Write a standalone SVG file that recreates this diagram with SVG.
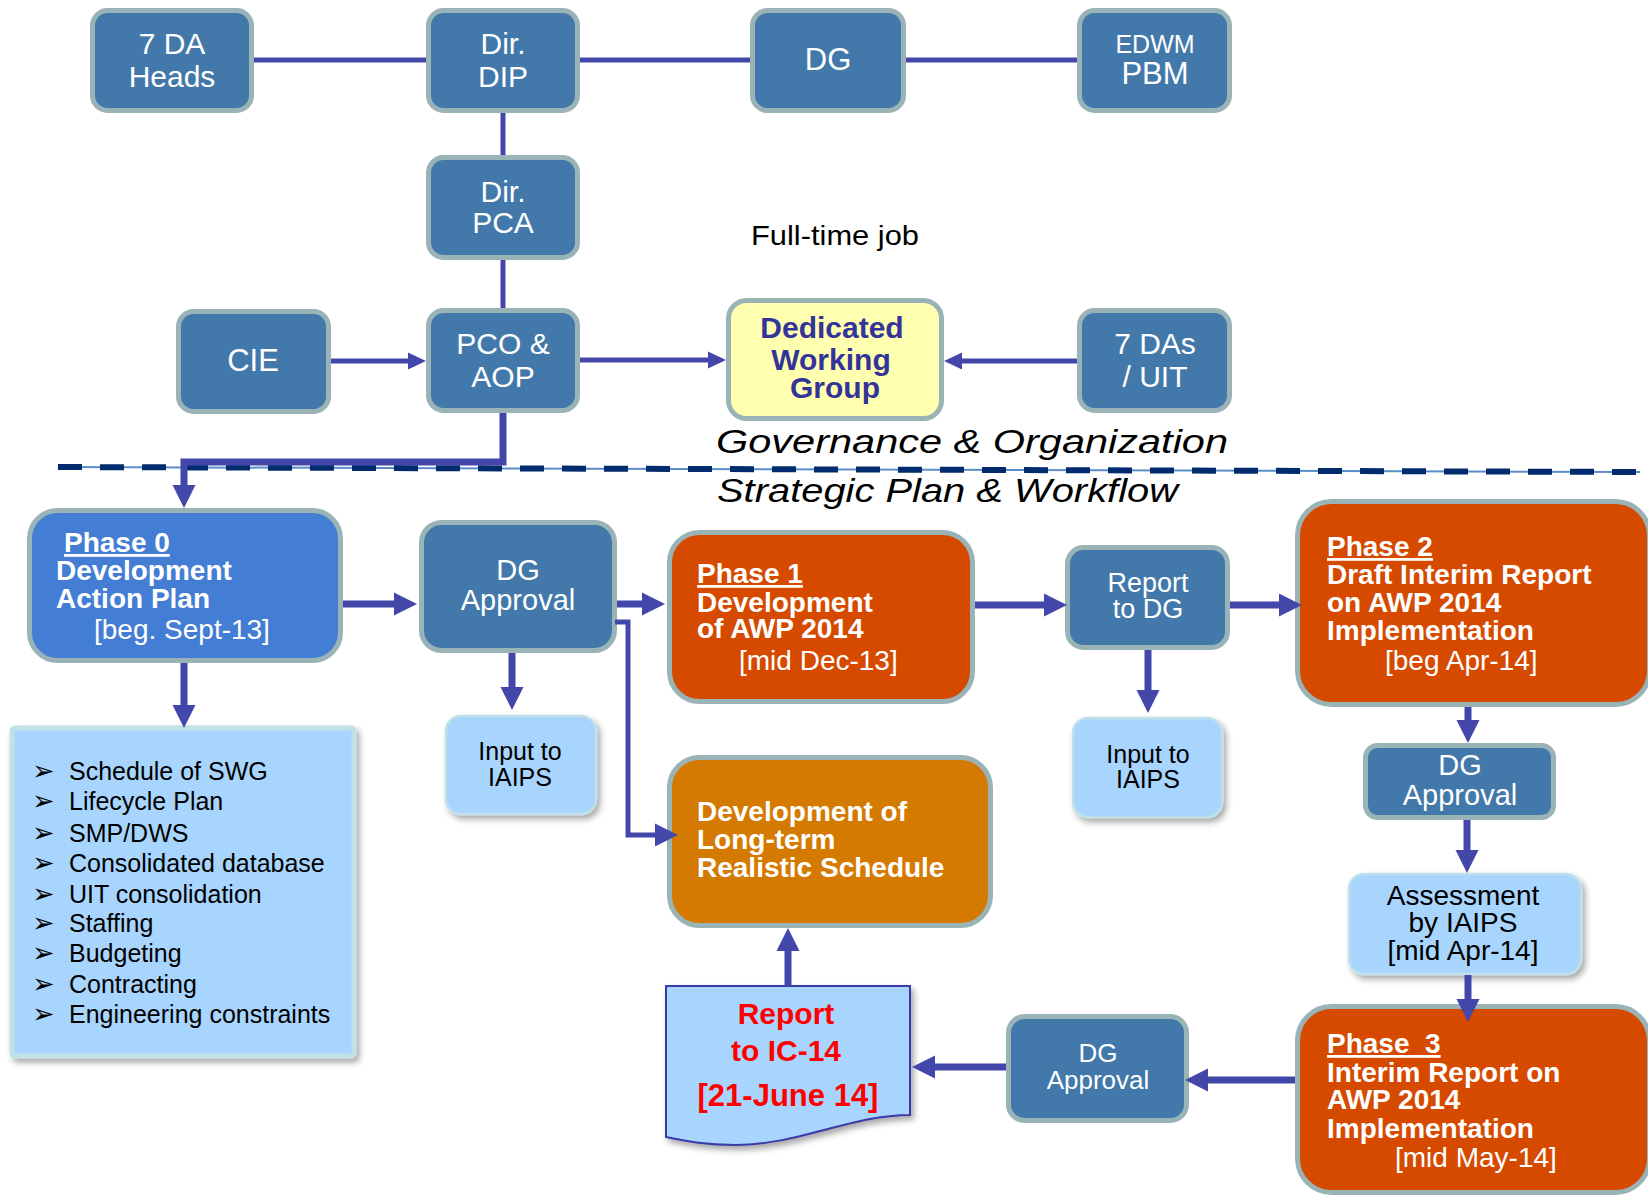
<svg xmlns="http://www.w3.org/2000/svg" width="1648" height="1195" viewBox="0 0 1648 1195">
<style>
  text { font-family: "Liberation Sans", Arial, sans-serif; }
  .blue rect { fill: #4279aa; stroke: #9ab3b6; stroke-width: 5; }
  .blue text { fill: #ffffff; font-size: 30px; text-anchor: middle; }
  .phase rect { fill: #d64a00; stroke: #9ab3b6; stroke-width: 5; }
  .phase text, .p0 text, .lt text { fill: #ffffff; font-size: 28px; font-weight: bold; }
  .phase text.d, .p0 text.d { font-weight: normal; }
  .p0 rect { fill: #437dd4; stroke: #9ab3b6; stroke-width: 5; }
  .lt rect { fill: #d57a00; stroke: #9ab3b6; stroke-width: 5; }
  .lb rect { fill: #a8d5fd; stroke: #bfe0e8; stroke-width: 2.5; filter: url(#sh); }
  .lb text { fill: #000000; font-size: 25px; text-anchor: middle; }
  .list text { fill: #000000; font-size: 25px; }
  .list text.b { font-family: "DejaVu Sans", sans-serif; font-size: 27px; }
  .conn path { fill: none; stroke: #4447aa; stroke-linejoin: miter; }
  .thin { stroke-width: 5; }
  .thick { stroke-width: 7; }
  .it { font-style: italic; fill: #000000; font-size: 34px; }
</style>
<defs>
  <filter id="sh" x="-10%" y="-10%" width="130%" height="130%">
    <feDropShadow dx="3" dy="4" stdDeviation="3" flood-color="#000000" flood-opacity="0.35"/>
  </filter>
  <marker id="as" markerUnits="userSpaceOnUse" markerWidth="40" markerHeight="40" refX="0" refY="0" orient="auto" overflow="visible">
    <path d="M-1,-8.5 L17,0 L-1,8.5 Z" fill="#4447aa"/>
  </marker>
  <marker id="ab" markerUnits="userSpaceOnUse" markerWidth="50" markerHeight="50" refX="0" refY="0" orient="auto" overflow="visible">
    <path d="M-1,-11.5 L22,0 L-1,11.5 Z" fill="#4447aa"/>
  </marker>
</defs>
<rect x="0" y="0" width="1648" height="1195" fill="#ffffff"/>

<!-- separator -->
<g id="separator">
  <path d="M58,467 L1640,472" stroke="#5a8dc8" stroke-width="2" fill="none"/>
  <path d="M58,467 L1640,472" stroke="#002c6e" stroke-width="6" stroke-dasharray="24 18" fill="none"/>
</g>

<g id="labels">
  <text x="751" y="245" font-size="28" fill="#000000" textLength="168" lengthAdjust="spacingAndGlyphs">Full-time job</text>
  <text class="it" x="716" y="453" textLength="512" lengthAdjust="spacingAndGlyphs">Governance &amp; Organization</text>
  <text class="it" x="717" y="502" textLength="461" lengthAdjust="spacingAndGlyphs">Strategic Plan &amp; Workflow</text>
</g>

<!-- governance nodes -->
<g id="n-7da-heads" class="blue">
  <rect x="92.5" y="10.5" width="159" height="100" rx="15"/>
  <text x="172" y="54">7 DA</text>
  <text x="172" y="87">Heads</text>
</g>
<g id="n-dir-dip" class="blue">
  <rect x="428.5" y="10.5" width="149" height="100" rx="15"/>
  <text x="503" y="54">Dir.</text>
  <text x="503" y="87">DIP</text>
</g>
<g id="n-dg" class="blue">
  <rect x="752.5" y="10.5" width="151" height="100" rx="15"/>
  <text x="828" y="70" style="font-size:31px">DG</text>
</g>
<g id="n-edwm" class="blue">
  <rect x="1079.5" y="10.5" width="150" height="100" rx="15"/>
  <text x="1155" y="53" style="font-size:25px">EDWM</text>
  <text x="1155" y="84" style="font-size:31px">PBM</text>
</g>
<g id="n-dir-pca" class="blue">
  <rect x="428.5" y="157.5" width="149" height="100" rx="15"/>
  <text x="503" y="202">Dir.</text>
  <text x="503" y="233">PCA</text>
</g>
<g id="n-cie" class="blue">
  <rect x="178.5" y="311.5" width="150" height="100" rx="15"/>
  <text x="253" y="371" style="font-size:31px">CIE</text>
</g>
<g id="n-pco-aop" class="blue">
  <rect x="428.5" y="310.5" width="149" height="100" rx="15"/>
  <text x="503" y="354">PCO &amp;</text>
  <text x="503" y="387">AOP</text>
</g>
<g id="n-dwg">
  <rect x="728.5" y="300.5" width="213" height="118" rx="18" fill="#ffffb0" stroke="#9ab3b6" stroke-width="5"/>
  <text x="832" y="338" fill="#333399" font-size="30" font-weight="bold" text-anchor="middle">Dedicated</text>
  <text x="831" y="370" fill="#333399" font-size="30" font-weight="bold" text-anchor="middle">Working</text>
  <text x="835" y="398" fill="#333399" font-size="30" font-weight="bold" text-anchor="middle">Group</text>
</g>
<g id="n-7das-uit" class="blue">
  <rect x="1079.5" y="310.5" width="150" height="100" rx="15"/>
  <text x="1155" y="354">7 DAs</text>
  <text x="1155" y="387">/ UIT</text>
</g>

<!-- workflow nodes -->
<g id="n-phase0" class="p0">
  <rect x="29.5" y="510.5" width="311" height="150" rx="28"/>
  <text x="64" y="552" text-decoration="underline">Phase 0</text>
  <text x="56" y="580">Development</text>
  <text x="56" y="608">Action Plan</text>
  <text class="d" x="94" y="639">[beg. Sept-13]</text>
</g>
<g id="n-dg-approval-1" class="blue">
  <rect x="421.5" y="522.5" width="193" height="128" rx="20"/>
  <text x="518" y="580" style="font-size:29px">DG</text>
  <text x="518" y="610" style="font-size:29px">Approval</text>
</g>
<g id="n-input-iaips-1" class="lb">
  <rect x="446" y="716" width="150" height="98" rx="15"/>
  <text x="520" y="760">Input to</text>
  <text x="520" y="786">IAIPS</text>
</g>
<g id="n-list">
  <rect x="12" y="728" width="342" height="328" rx="3" fill="#a8d5fd" stroke="#c0e2e6" stroke-width="5" filter="url(#sh)"/>
  <g class="list">
    <text class="b" x="32" y="780">➢</text><text x="69" y="780">Schedule of SWG</text>
    <text class="b" x="32" y="810">➢</text><text x="69" y="810">Lifecycle Plan</text>
    <text class="b" x="32" y="842">➢</text><text x="69" y="842">SMP/DWS</text>
    <text class="b" x="32" y="872">➢</text><text x="69" y="872">Consolidated database</text>
    <text class="b" x="32" y="903">➢</text><text x="69" y="903">UIT consolidation</text>
    <text class="b" x="32" y="932">➢</text><text x="69" y="932">Staffing</text>
    <text class="b" x="32" y="962">➢</text><text x="69" y="962">Budgeting</text>
    <text class="b" x="32" y="993">➢</text><text x="69" y="993">Contracting</text>
    <text class="b" x="32" y="1023">➢</text><text x="69" y="1023">Engineering constraints</text>
  </g>
</g>
<g id="n-phase1" class="phase">
  <rect x="669.5" y="532.5" width="303" height="169" rx="30"/>
  <text x="697" y="583" text-decoration="underline">Phase 1</text>
  <text x="697" y="612">Development</text>
  <text x="697" y="638">of AWP 2014</text>
  <text class="d" x="739" y="670">[mid Dec-13]</text>
</g>
<g id="n-longterm" class="lt">
  <rect x="669.5" y="757.5" width="321" height="168" rx="30"/>
  <text x="697" y="821">Development of</text>
  <text x="697" y="849">Long-term</text>
  <text x="697" y="877">Realistic Schedule</text>
</g>
<g id="n-report-dg" class="blue">
  <rect x="1067.5" y="547.5" width="160" height="100" rx="16"/>
  <text x="1148" y="592" style="font-size:27px">Report</text>
  <text x="1148" y="618" style="font-size:27px">to DG</text>
</g>
<g id="n-input-iaips-2" class="lb">
  <rect x="1073" y="718" width="149" height="99" rx="15"/>
  <text x="1148" y="763">Input to</text>
  <text x="1148" y="788">IAIPS</text>
</g>
<g id="n-phase2" class="phase">
  <rect x="1297.5" y="501.5" width="352" height="203" rx="34"/>
  <text x="1327" y="556" text-decoration="underline">Phase 2</text>
  <text x="1327" y="584">Draft Interim Report</text>
  <text x="1327" y="612">on AWP 2014</text>
  <text x="1327" y="640">Implementation</text>
  <text class="d" x="1385" y="670">[beg Apr-14]</text>
</g>
<g id="n-dg-approval-2" class="blue">
  <rect x="1365.5" y="745.5" width="188" height="72" rx="12"/>
  <text x="1460" y="775" style="font-size:29px">DG</text>
  <text x="1460" y="805" style="font-size:29px">Approval</text>
</g>
<g id="n-assessment" class="lb">
  <rect x="1349" y="874" width="232" height="100" rx="15"/>
  <text x="1463" y="905" style="font-size:28px">Assessment</text>
  <text x="1463" y="932" style="font-size:28px">by IAIPS</text>
  <text x="1463" y="960" style="font-size:28px">[mid Apr-14]</text>
</g>
<g id="n-phase3" class="phase">
  <rect x="1297.5" y="1006.5" width="352" height="186" rx="34"/>
  <text x="1327" y="1053" text-decoration="underline" xml:space="preserve">Phase  3</text>
  <text x="1327" y="1082">Interim Report on</text>
  <text x="1327" y="1109">AWP 2014</text>
  <text x="1327" y="1138">Implementation</text>
  <text class="d" x="1395" y="1167">[mid May-14]</text>
</g>
<g id="n-dg-approval-3" class="blue">
  <rect x="1008.5" y="1016.5" width="178" height="104" rx="16"/>
  <text x="1098" y="1062" style="font-size:26px">DG</text>
  <text x="1098" y="1089" style="font-size:26px">Approval</text>
</g>
<g id="n-report-ic14">
  <path d="M666,986 H910 V1115 C850,1115 800,1145 735,1145 C705,1145 685,1141 666,1137 Z" fill="#a8d5fd" stroke="#3a3aa8" stroke-width="2" filter="url(#sh)"/>
  <text x="786" y="1024" fill="#ff0000" font-size="30" font-weight="bold" text-anchor="middle">Report</text>
  <text x="786" y="1061" fill="#ff0000" font-size="30" font-weight="bold" text-anchor="middle">to IC-14</text>
  <text x="788" y="1106" fill="#ff0000" font-size="31" font-weight="bold" text-anchor="middle">[21-June 14]</text>
</g>

<!-- connectors -->
<g id="connectors" class="conn">
  <path class="thin" d="M254,60 H426"/>
  <path class="thin" d="M580,60 H750"/>
  <path class="thin" d="M906,60 H1077"/>
  <path class="thin" d="M503,113 V155"/>
  <path class="thin" d="M503,260 V308"/>
  <path class="thin" d="M331,361 H409" marker-end="url(#as)"/>
  <path class="thin" d="M580,360 H709" marker-end="url(#as)"/>
  <path class="thin" d="M1077,361 H961" marker-end="url(#as)"/>
  <path class="thick" d="M503,413 V462 H184 V486" marker-end="url(#ab)"/>
  <path class="thick" d="M343,604 H395" marker-end="url(#ab)"/>
  <path class="thick" d="M617,604 H643" marker-end="url(#ab)"/>
  <path class="thick" d="M184,663 V706" marker-end="url(#ab)"/>
  <path class="thick" d="M512,653 V688" marker-end="url(#ab)"/>
  <path class="thin" d="M615,622 H628 V835 H656" marker-end="url(#ab)"/>
  <path class="thick" d="M975,605 H1045" marker-end="url(#ab)"/>
  <path class="thick" d="M1148,650 V691" marker-end="url(#ab)"/>
  <path class="thick" d="M1230,605 H1280" marker-end="url(#ab)"/>
  <path class="thick" d="M1468,707 V721" marker-end="url(#ab)"/>
  <path class="thick" d="M1467,820 V851" marker-end="url(#ab)"/>
  <path class="thick" d="M1468,975 V1000" marker-end="url(#ab)"/>
  <path class="thick" d="M1295,1080 H1207" marker-end="url(#ab)"/>
  <path class="thick" d="M1006,1067 H934" marker-end="url(#ab)"/>
  <path class="thick" d="M788,986 V950" marker-end="url(#ab)"/>
</g>
</svg>
